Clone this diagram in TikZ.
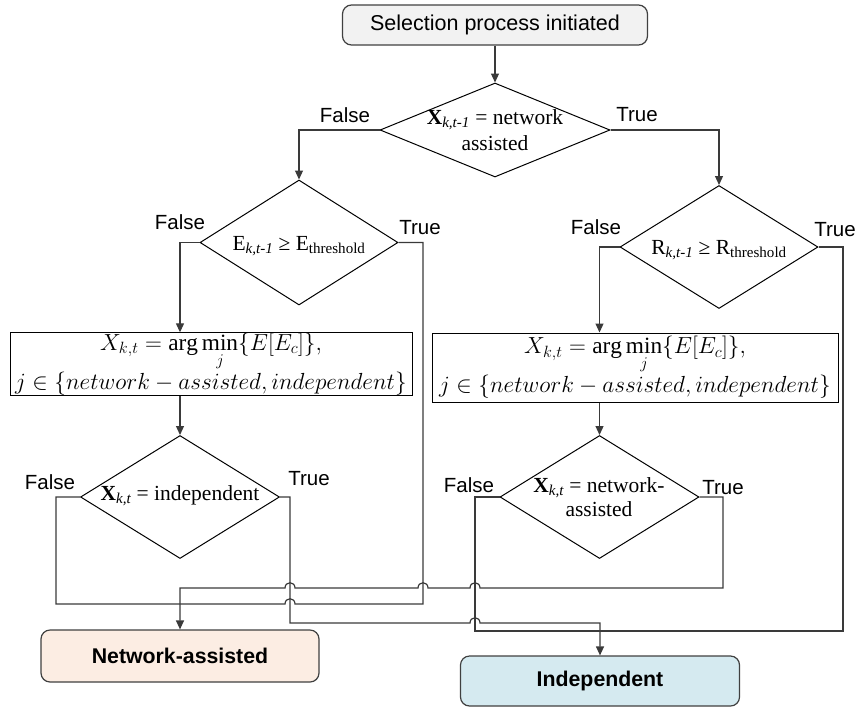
\RequirePackage{fix-cm}
\documentclass[tikz,border=0pt]{standalone}
\usepackage{amsmath}
\usepackage{fontspec}
\setmainfont{Liberation Serif}
\setsansfont{Liberation Sans}
\usetikzlibrary{shapes.geometric,arrows.meta}

\definecolor{lineclr}{HTML}{3A3A3A}
\definecolor{startfill}{HTML}{F2F2F2}
\definecolor{netfill}{HTML}{FCEDE3}
\definecolor{indfill}{HTML}{D5EAF0}

\begin{document}
\begin{tikzpicture}[x=1pt,y=-1pt,
  conn/.style={draw=lineclr, line width=1.2pt},
  arr/.style={conn, -{Triangle[length=9pt,width=8pt]}},
  decision/.style={diamond, draw=black, line width=1pt, inner sep=0pt},
  process/.style={rectangle, draw=black, line width=1pt, inner sep=0pt,
    align=center, font=\fontsize{23.3}{35}\selectfont},
  terminal/.style={rectangle, rounded corners=9pt, draw=black!75, line width=1.2pt,
    inner sep=0pt},
  lbl/.style={font=\fontsize{20.5}{24}\selectfont\sffamily, inner sep=0pt},
  ser/.style={font=\fontsize{21.5}{26}\selectfont, align=center, inner sep=0pt}
]
\useasboundingbox (0,0) rectangle (858,707);

% start
\node[terminal, fill=startfill, minimum width=305pt, minimum height=40pt,
      font=\fontsize{21.5}{24}\selectfont\sffamily] (start) at (495,25) {Selection process initiated};

% decisions
\node[decision, minimum width=230pt, minimum height=94pt] (d1) at (495,130) {};
\node[ser] at (d1.center) {\textbf{X}\textsubscript{\itshape k,t-1} = network\\assisted};

\node[decision, minimum width=198pt, minimum height=125pt] (dE) at (299,242.5) {};
\node[ser] at (299,246) {E\textsubscript{\itshape k,t-1} ≥ E\textsubscript{threshold}};

\node[decision, minimum width=198pt, minimum height=123pt] (dR) at (719,247) {};
\node[ser] at (719,250) {R\textsubscript{\itshape k,t-1} ≥ R\textsubscript{threshold}};

\node[decision, minimum width=199pt, minimum height=123pt] (dI) at (180,497) {};
\node[ser] at (180,496) {\textbf{X}\textsubscript{\itshape k,t} = independent};

\node[decision, minimum width=199pt, minimum height=123pt] (dN) at (599.5,497) {};
\node[ser, font=\fontsize{21.5}{24}\selectfont] at (599,497) {\textbf{X}\textsubscript{\itshape k,t} = network-\\assisted};

% processes
\node[process, minimum width=402pt, minimum height=62pt] (rL) at (211,364)
  {$X_{k,t}=\arg\min\limits_{j}\{E[E_c]\},$\\$j\in\{network-assisted,independent\}$};
\node[process, minimum width=406pt, minimum height=69pt] (rR) at (635,367.5)
  {$X_{k,t}=\arg\min\limits_{j}\{E[E_c]\},$\\$j\in\{network-assisted,independent\}$};

% outcomes
\node[terminal, fill=netfill, minimum width=278pt, minimum height=52pt,
      font=\fontsize{21.3}{24}\selectfont\sffamily\bfseries] (na) at (180,656) {Network-assisted};
\node[terminal, fill=indfill, minimum width=279pt, minimum height=50pt,
      font=\fontsize{21.3}{24}\selectfont\sffamily\bfseries] (ind) at (600,681) {Independent};

% branch labels
\node[lbl] at (345,115) {False};
\node[lbl] at (637,115) {True};
\node[lbl] at (180,222) {False};
\node[lbl] at (420,228) {True};
\node[lbl] at (596,227) {False};
\node[lbl] at (835,230) {True};
\node[lbl] at (50,482) {False};
\node[lbl] at (309,479) {True};
\node[lbl] at (469,485) {False};
\node[lbl] at (723,488) {True};

% connectors
\draw[arr] (start.south) -- (d1.north);
\draw[arr] (d1.west) -| (dE.north);
\draw[arr] (d1.east) -| (dR.north);
\draw[arr] (dE.west) -| (dI.north |- rL.north);
\draw[arr] (dR.west) -| (dN.north |- rR.north);
\draw[arr] (dI.north |- rL.south) -- (dI.north);
\draw[arr] (dN.north |- rR.south) -- (dN.north);

% loop joining the E-true and independent-false branches
\draw[conn] (dE.east) -| (423,604) -- (295,604)
  .. controls (295,597) and (285,597) .. (285,604) -- (56,604) |- (dI.west);
% loop joining the R-true and network-false branches
\draw[conn] (dR.east) -| (843,631) -- (475,631) |- (dN.west);

% to network-assisted
\draw[arr] (dN.east) -| (723,588) -- (480,588)
  .. controls (480,581) and (470,581) .. (470,588) -- (428,588)
  .. controls (428,581) and (418,581) .. (418,588) -- (295,588)
  .. controls (295,581) and (285,581) .. (285,588) -| (na.north);
% to independent
\draw[arr] (dI.east) -| (290,623) -- (470,623)
  .. controls (470,616) and (480,616) .. (480,623) -| (ind.north);
\end{tikzpicture}
\end{document}
